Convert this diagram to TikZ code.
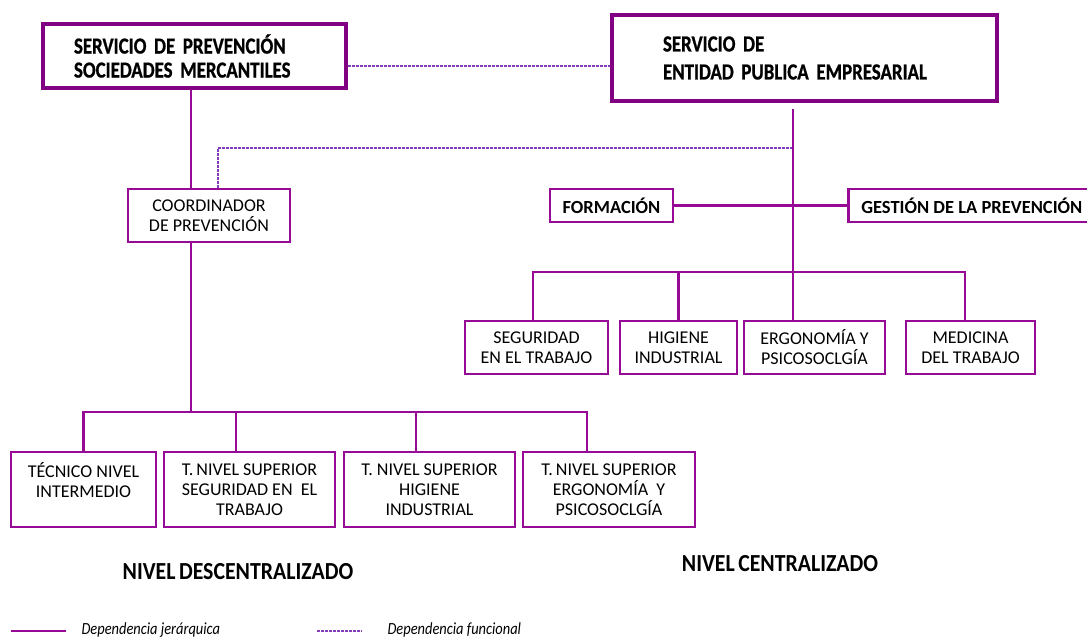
\documentclass[tikz,border=0pt]{standalone}
\usepackage{fontspec}
\setmainfont{Carlito}
\newfontfamily\headfont[FakeStretch=0.82,BoldFeatures={FakeBold=0.8}]{Carlito}
\newfontfamily\nivelfont[FakeStretch=0.89,WordSpace=0.7]{Carlito}
\newfontfamily\legfont[FakeStretch=0.85]{Carlito}
\definecolor{jerarq}{RGB}{150,10,150}
\definecolor{boxline}{RGB}{130,0,130}
\definecolor{funcional}{RGB}{135,60,185}
\tikzset{
  mainbox/.style={draw=boxline,line width=4pt,inner ysep=0pt,align=left,
    font=\headfont\bfseries\fontsize{23}{24}\selectfont},
  unitbox/.style={draw=jerarq,line width=2.6pt,inner sep=0pt,align=center,
    font=\fontsize{18}{20}\selectfont},
  headbox/.style={draw=jerarq,line width=2.6pt,inner sep=0pt,
    font=\bfseries\fontsize{18.5}{20}\selectfont},
  jer/.style={draw=jerarq,line width=2.2pt},
  func/.style={draw=funcional,line width=1.6pt,dash pattern=on 3pt off 1pt},
  nivel/.style={anchor=base,font=\nivelfont\bfseries\fontsize{24.5}{28}\selectfont},
  leyenda/.style={anchor=base west,font=\legfont\itshape\fontsize{17}{20}\selectfont}
}
\begin{document}
\begin{tikzpicture}[x=1pt,y=-1pt]
  \useasboundingbox (0,0) rectangle (1087,639);
  \node[mainbox,text width=241pt,inner xsep=31pt,minimum height=64pt] (spsm) at (194.5,56)
    {SERVICIO DE PREVENCIÓN\\SOCIEDADES MERCANTILES};
  \node[mainbox,text width=283pt,inner xsep=51pt,minimum height=86pt,
    font=\headfont\bfseries\fontsize{23}{28}\selectfont] (epe) at (804.5,58)
    {SERVICIO DE\\ENTIDAD PUBLICA EMPRESARIAL};
  \node[unitbox,minimum width=162pt,minimum height=53pt] (coord) at (209,215.5) {COORDINADOR\\DE PREVENCIÓN};
  \node[headbox,minimum width=123pt,minimum height=33pt] (form) at (611.5,205.5) {FORMACIÓN};
  \node[headbox,anchor=west,inner xsep=13pt,minimum height=33pt] (gest) at (847,205.5) {GESTIÓN DE LA PREVENCIÓN};

  \node[unitbox,minimum width=143pt,minimum height=53pt] (seg) at (536.5,347.5) {SEGURIDAD\\EN EL TRABAJO};
  \node[unitbox,minimum width=117pt,minimum height=53pt] (hig) at (678.5,347.5) {HIGIENE\\INDUSTRIAL};
  \node[unitbox,minimum width=141pt,minimum height=53pt] (erg) at (814.5,347.5) {ERGONOMÍA Y\\PSICOSOCLGÍA};
  \node[unitbox,minimum width=129pt,minimum height=53pt] (med) at (970.5,347.5) {MEDICINA\\DEL TRABAJO};

  \node[unitbox,minimum width=145pt,minimum height=75pt] (tec) at (83.5,489.5) {TÉCNICO NIVEL\\INTERMEDIO\\\mbox{}};
  \node[unitbox,minimum width=171pt,minimum height=75pt] (tseg) at (249.5,489.5) {T.\,NIVEL SUPERIOR\\SEGURIDAD EN~ EL\\TRABAJO};
  \node[unitbox,minimum width=171pt,minimum height=75pt] (thig) at (429.5,489.5) {T. NIVEL SUPERIOR\\HIGIENE\\INDUSTRIAL};
  \node[unitbox,minimum width=172pt,minimum height=75pt] (terg) at (609,489.5) {T.\,NIVEL SUPERIOR\\ERGONOMÍA~ Y\\PSICOSOCLGÍA};

  \coordinate (cruce) at (793,148);
  \coordinate (busR) at (793,272);
  \coordinate (busL) at (191,412);

  \draw[func] ([yshift=-10pt]spsm.east) -- ([yshift=-10pt]spsm.east -| epe.west);
  \draw[func] ([xshift=9pt]coord.north) |- (cruce);
  \draw[jer] ([xshift=-18pt]coord.north) -- ([xshift=-18pt]coord.north |- spsm.south);
  \draw[jer,shorten <=6pt] (epe.south -| cruce) -- (erg.north -| cruce);
  \draw[jer] (form.east) -- (gest.west);
  \draw[jer] ([xshift=-3.5pt]seg.north) |- (busR) -| ([xshift=-5.5pt]med.north);
  \draw[jer] (hig.north) -- (hig.north |- busR);

  \draw[jer] ([xshift=-18pt]coord.south) -- (busL);
  \draw[jer] (tec.north) |- (busL) -| ([xshift=-22pt]terg.north);
  \draw[jer] ([xshift=-13.5pt]tseg.north) -- ([xshift=-13.5pt]tseg.north |- busL);
  \draw[jer] ([xshift=-13.5pt]thig.north) -- ([xshift=-13.5pt]thig.north |- busL);

  \node[nivel] (descentral) at (238,579) {NIVEL DESCENTRALIZADO};
  \node[nivel] (central) at (780,571) {NIVEL CENTRALIZADO};

  \coordinate (jerA) at (11,631);
  \coordinate (jerB) at (66,631);
  \coordinate (funA) at (317,631);
  \coordinate (funB) at (362,631);
  \draw[jer,line width=2.6pt] (jerA) -- (jerB);
  \draw[func] (funA) -- (funB);
  \node[leyenda] (jerTxt) at (78,634) {Dependencia jerárquica};
  \node[leyenda] (funTxt) at (384,634) {Dependencia funcional};
\end{tikzpicture}
\end{document}
